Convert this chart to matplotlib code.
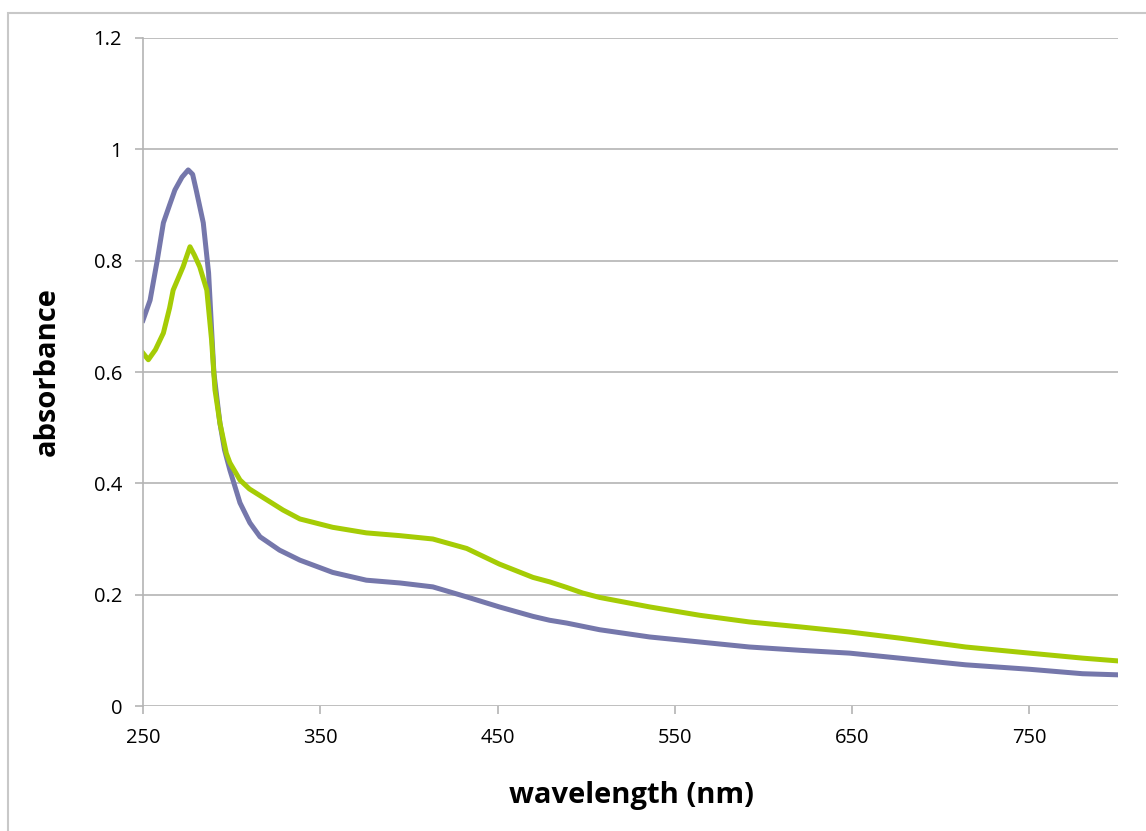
import matplotlib.pyplot as plt
from matplotlib.patches import Rectangle

# spectra (wavelength in nm, absorbance)
wl_blue = [250, 254, 258, 261.5, 265, 268, 272, 275.5, 278, 280, 284, 287, 290,
           293.4, 296, 299, 304.7, 310.3, 316, 327, 338.5, 357, 376, 395, 413.5,
           432.6, 451, 470, 479.4, 489, 507.6, 535.8, 564, 592, 621, 648.5,
           676.7, 714, 750, 780, 800]
abs_blue = [0.693, 0.729, 0.80, 0.868, 0.90, 0.927, 0.95, 0.963, 0.955, 0.927,
            0.868, 0.778, 0.598, 0.508, 0.46, 0.424, 0.365, 0.329, 0.304, 0.28,
            0.262, 0.240, 0.226, 0.221, 0.214, 0.196, 0.178, 0.161, 0.154, 0.149,
            0.137, 0.124, 0.115, 0.106, 0.100, 0.095, 0.086, 0.074, 0.066,
            0.058, 0.056]

wl_green = [250, 253, 257, 261.5, 265, 267, 272.6, 276.5, 279, 282, 286, 288.7,
            290.6, 293.4, 297, 299, 304.7, 310, 320, 329, 338.5, 357, 376, 395,
            413.5, 432.6, 451, 470, 479.4, 489, 498, 507.6, 535.8, 564, 592, 621,
            648.5, 676.7, 714, 750, 780, 800]
abs_green = [0.634, 0.622, 0.64, 0.67, 0.715, 0.747, 0.789, 0.825, 0.81, 0.789,
             0.747, 0.657, 0.568, 0.508, 0.454, 0.437, 0.406, 0.39, 0.37, 0.352,
             0.336, 0.321, 0.311, 0.306, 0.300, 0.283, 0.255, 0.231, 0.223,
             0.213, 0.203, 0.195, 0.178, 0.163, 0.151, 0.142, 0.133, 0.122,
             0.106, 0.095, 0.086, 0.081]

x_ticks = [250, 350, 450, 550, 650, 750]
y_ticks = [0, 0.2, 0.4, 0.6, 0.8, 1.0, 1.2]
y_tick_labels = ["0", "0.2", "0.4", "0.6", "0.8", "1", "1.2"]

plt.rcParams['font.family'] = ['Open Sans', 'DejaVu Sans']
grey = '#B4B4B4'

fig = plt.figure(figsize=(11.46, 8.31), dpi=100)
ax = fig.add_axes([143 / 1146, 1 - 706 / 831, 975 / 1146, 668 / 831])

# outer chart frame (cut off at right/bottom like the screenshot)
fig.patches.append(Rectangle((8 / 1146, -0.1), 1.2, 1 - 13 / 831 + 0.1,
                             transform=fig.transFigure, fill=False,
                             edgecolor='#C8C8C8', linewidth=1.5))

ax.plot(wl_blue, abs_blue, color='#7577AB', linewidth=3.6,
        solid_joinstyle='round')
ax.plot(wl_green, abs_green, color='#A5CC05', linewidth=3.6,
        solid_joinstyle='round')

ax.set_xlim(250, 800)
ax.set_ylim(0, 1.2)
ax.set_xticks(x_ticks)
ax.set_yticks(y_ticks)
ax.set_yticklabels(y_tick_labels)
ax.grid(axis='y', color=grey, linewidth=1.2)
ax.set_axisbelow(True)

for side in ['top', 'right', 'bottom']:
    ax.spines[side].set_visible(False)
ax.spines['left'].set_color(grey)
ax.spines['left'].set_linewidth(1.2)
ax.tick_params(axis='both', colors=grey, labelcolor='black', labelsize=14.5,
               length=6, width=1.2)
ax.tick_params(axis='y', pad=9)
ax.tick_params(axis='x', pad=10)

fig.text(631 / 1146, 1 - 795 / 831, 'wavelength (nm)', ha='center', va='center',
         fontsize=21, fontweight='bold')
fig.text(47 / 1146, 1 - 372 / 831, 'absorbance', ha='center', va='center',
         rotation=90, fontsize=21, fontweight='bold')

fig.savefig('out.png', dpi=100)
